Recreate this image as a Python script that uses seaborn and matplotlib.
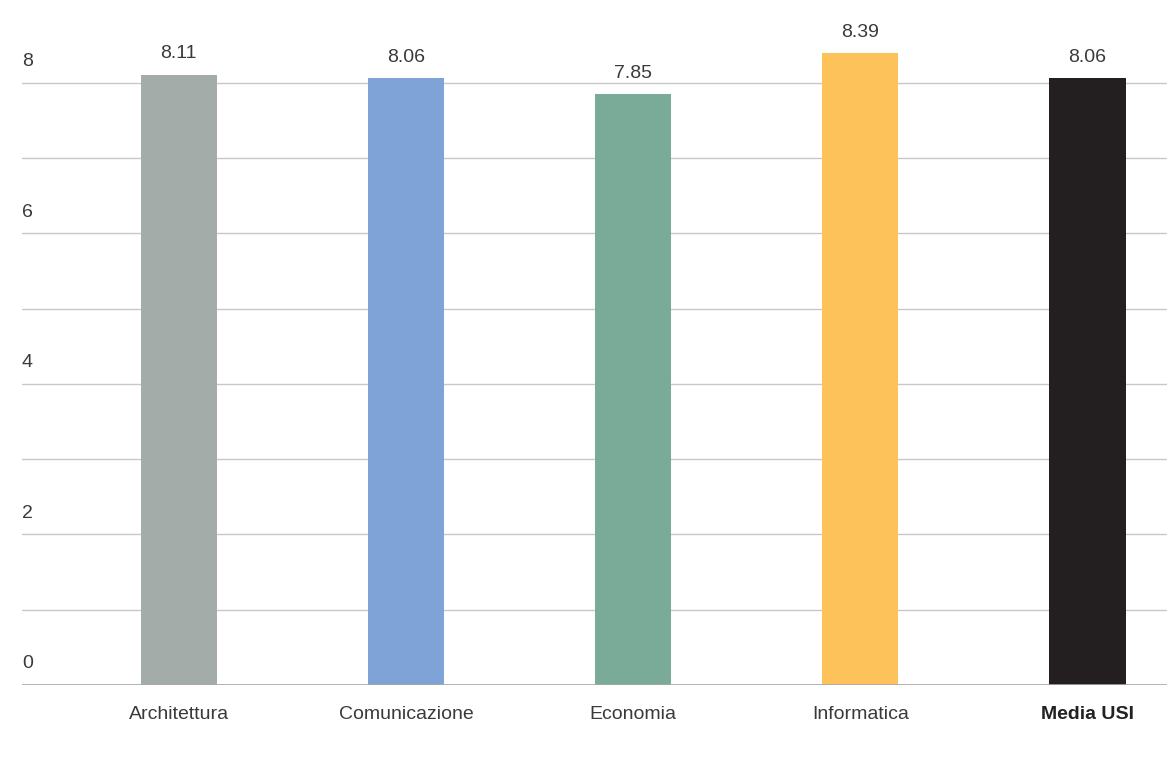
import matplotlib
matplotlib.use("Agg")
import matplotlib.pyplot as plt
import matplotlib.transforms as mtransforms
import seaborn as sns
import pandas as pd

# data
facolta = ["Architettura", "Comunicazione", "Economia", "Informatica", "Media USI"]
voti = [8.11, 8.06, 7.85, 8.39, 8.06]
colori = ["#a4acaa", "#7fa3d6", "#7aaa98", "#fdc35a", "#231f20"]
y_labels = [0, 2, 4, 6, 8]

df = pd.DataFrame({"facolta": facolta, "voto": voti})

sns.set_style("white")
plt.rcParams["font.family"] = ["Liberation Sans", "DejaVu Sans"]

fig = plt.figure(figsize=(11.67, 7.68), dpi=100)
ax = fig.add_axes([22 / 1167, 83 / 768, 1145 / 1167, 685 / 768])

sns.barplot(data=df, x="facolta", y="voto", hue="facolta", palette=colori,
            width=0.335, legend=False, saturation=1, linewidth=0,
            ax=ax, zorder=3)

ax.set_xlim(-0.69, 4.35)
ax.set_ylim(0, 9.1)

# gridlines every unit
ax.set_yticks(range(0, 9))
ax.set_yticklabels([])
ax.tick_params(axis="y", length=0)
ax.grid(axis="y", color="#c8c8c8", linewidth=1, zorder=0)
ax.axhline(0, color="#a8a8a8", linewidth=1.2, zorder=4)
for s in ax.spines.values():
    s.set_visible(False)

# y labels sitting above their gridline
trans = mtransforms.blended_transform_factory(ax.transAxes, ax.transData)
for v in y_labels:
    ax.annotate(str(v), xy=(0, v), xycoords=trans, xytext=(0, 12),
                textcoords="offset points", ha="left", va="baseline",
                fontsize=14, color="#3a3a3a")

# value labels
for i, v in enumerate(voti):
    ax.annotate(f"{v:.2f}", xy=(i, v), xytext=(0, 9), textcoords="offset points",
                ha="center", va="bottom", fontsize=14, color="#3a3a3a")

ax.set_xlabel("")
ax.set_ylabel("")
ax.tick_params(axis="x", length=0, pad=15, labelsize=14, labelcolor="#3a3a3a")
for lab in ax.get_xticklabels():
    if lab.get_text() == "Media USI":
        lab.set_fontweight("bold")
        lab.set_color("#222222")

fig.savefig("out.png", dpi=100)
